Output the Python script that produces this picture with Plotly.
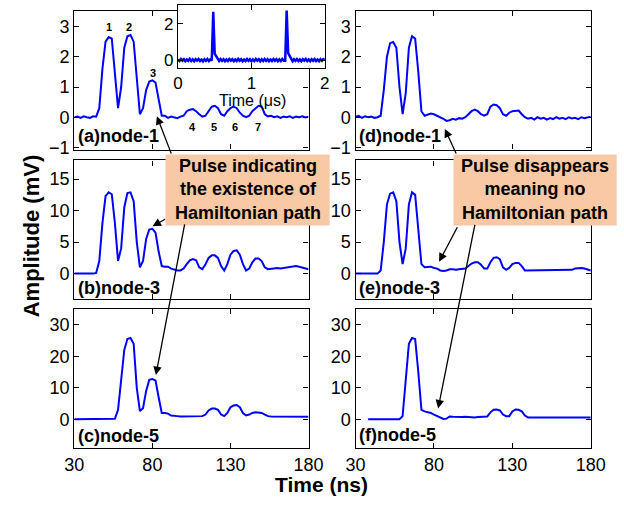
import plotly.graph_objects as go

# ---------------- data ----------------
t_ns = list(range(30, 181, 2))

amp_a = [0.0, 0.02, -0.02, 0.03, 0.0, -0.02, 0.03, 0.02, 0.3, 1.6,
         2.5, 2.65, 2.6, 1.5, 0.3, 1.0, 2.3, 2.68, 2.72, 2.5,
         1.2, 0.1, 0.3, 0.9, 1.18, 1.22, 1.15, 0.6, 0.05, 0.05,
         -0.02, 0.02, 0.0, -0.03, 0.02, 0.05, 0.2, 0.25, 0.27, 0.2,
         0.1, 0.02, 0.05, 0.2, 0.35, 0.38, 0.3, 0.1, 0.05, 0.2,
         0.3, 0.35, 0.3, 0.15, 0.05, 0.0, 0.05, 0.2, 0.3, 0.38,
         0.35, 0.1, 0.03, 0.05, 0.0, 0.03, -0.02, 0.02, 0.0, 0.03,
         -0.02, 0.02, 0.0, 0.03, -0.01, 0.02]

amp_d = [0.02, 0.05, -0.02, 0.03, 0.0, 0.02, -0.02, 0.0, 0.05, 0.9,
         2.0, 2.45, 2.49, 2.3, 1.0, 0.1, 0.8, 2.3, 2.68, 2.6,
         1.5, 0.2, 0.05, 0.08, 0.12, 0.1, 0.05, 0.02, -0.05, -0.12,
         -0.1, -0.05, -0.08, -0.03, -0.05, 0.0, 0.1, 0.2, 0.25, 0.2,
         0.1, 0.05, 0.1, 0.35, 0.42, 0.4, 0.3, 0.1, 0.05, 0.15,
         0.2, 0.2, 0.22, 0.1, 0.0, -0.05, -0.02, -0.08, 0.0, -0.05,
         -0.02, -0.08, -0.03, -0.06, 0.0, -0.05, -0.02, -0.06, 0.0, -0.04,
         -0.02, -0.06, 0.0, -0.03, 0.0, 0.02]

amp_b = [0.0, 0.0, -0.1, 0.0, 0.0, -0.1, 0.0, 0.1, 2.0, 8.0,
         12.3, 12.9, 12.6, 8.0, 2.0, 4.0, 10.5, 12.8, 12.9, 11.5,
         5.0, 1.0, 2.0, 5.5, 7.0, 7.1, 6.5, 3.5, 1.2, 1.1,
         1.1, 0.8, 0.6, 0.5, 0.5, 0.8, 1.5, 2.1, 2.3, 2.1,
         1.0, 0.7, 1.5, 2.5, 2.9, 2.9, 2.5, 1.2, 0.5, 1.5,
         3.0, 3.6, 3.7, 3.0, 1.5, 0.5, 0.8, 1.8, 2.4, 2.4,
         2.0, 1.0, 0.7, 0.8, 0.9, 0.9, 0.8, 0.9, 0.9, 1.0,
         1.2, 1.2, 1.1, 1.0, 0.8, 0.7]

amp_e = [0.0, 0.0, -0.1, 0.0, 0.0, -0.1, 0.0, 0.0, 0.5, 5.0,
         11.0, 12.7, 12.9, 11.5, 5.0, 1.5, 4.0, 11.0, 12.9, 12.5,
         7.0, 1.5, 1.0, 1.1, 1.1, 0.9, 0.8, 0.5, 0.4, 0.5,
         0.7, 0.7, 0.6, 0.7, 0.7, 0.8, 1.2, 1.6, 1.8, 1.8,
         1.4, 0.8, 0.8, 1.8, 2.5, 2.6, 2.3, 1.0, 0.6, 0.9,
         1.5, 1.7, 1.7, 1.2, 0.5, 0.5, 0.5, 0.5, 0.5, 0.5,
         0.5, 0.5, 0.5, 0.5, 0.5, 0.5, 0.5, 0.5, 0.5, 0.6,
         0.8, 0.9, 0.9, 0.8, 0.6, 0.5]

amp_c = [0.0, 0.0, 0.0, 0.0, 0.0, 0.0, 0.0, 0.0, 0.0, 0.0,
         0.0, 0.0, 0.0, 0.2, 3.0, 12.0, 22.0, 25.5, 25.8, 24.0,
         10.0, 2.6, 3.5, 9.0, 12.5, 12.8, 12.3, 7.0, 2.0, 2.0,
         1.8, 1.2, 1.0, 1.0, 0.9, 0.9, 1.0, 1.0, 0.9, 1.0,
         1.0, 1.0, 1.5, 2.8, 3.4, 3.4, 3.0, 1.5, 1.0, 2.0,
         3.8, 4.4, 4.5, 3.8, 2.0, 1.2, 1.5, 2.0, 2.2, 2.0,
         2.0, 1.5, 1.0, 0.9, 0.9, 0.9, 0.9, 0.9, 0.9, 0.9,
         0.9, 0.8, 0.8, 0.8, 0.8, 0.8]

amp_f = [None, None, None, None, 0.0, 0.0, 0.0, 0.0, 0.0, 0.0,
         0.0, 0.0, 0.0, 0.0, 0.0, 1.0, 12.0, 24.0, 25.8, 25.5,
         15.0, 3.0, 2.5, 2.3, 2.0, 1.5, 1.0, 0.6, 0.1, 0.2,
         0.9, 0.8, 0.7, 0.8, 0.7, 0.8, 0.7, 0.8, 0.6, 0.7,
         0.7, 0.7, 0.9, 2.2, 3.0, 3.1, 2.8, 1.5, 1.0, 1.0,
         2.5, 3.1, 3.0, 2.5, 1.2, 0.6, 0.7, 0.6, 0.6, 0.6,
         0.6, 0.6, 0.6, 0.6, 0.6, 0.6, 0.6, 0.6, 0.6, 0.6,
         0.6, 0.6, 0.6, 0.6, 0.6, 0.6]

t_us = [i / 50 for i in range(0, 101)]
amp_inset = [0.04, -0.05, 0.06, -0.03, 0.05, -0.06, 0.03, -0.04, 0.07, -0.05,
             0.04, -0.06, 0.05, -0.03, 0.06, -0.05, 0.03, -0.07, 0.05, -0.04,
             0.06, -0.05, 0.04, -0.02, 2.65, 0.35, 0.22, 0.08, -0.05, 0.06,
             -0.04, 0.05, -0.06, 0.04, -0.05, 0.06, -0.03, 0.05, -0.06, 0.04,
             -0.05, 0.07, -0.04, 0.05, -0.06, 0.03, -0.05, 0.06, -0.04, 0.05,
             -0.06, 0.04, -0.05, 0.06, -0.03, 0.05, -0.07, 0.04, -0.05, 0.06,
             -0.04, 0.05, -0.06, 0.03, -0.05, 0.06, -0.04, 0.05, -0.06, 0.04,
             -0.05, 0.06, -0.03, -0.03, 2.72, 0.38, 0.2, 0.05, -0.06, 0.05,
             -0.04, 0.06, -0.05, 0.04, -0.06, 0.05, -0.03, 0.06, -0.05, 0.04,
             -0.06, 0.05, -0.04, 0.06, -0.05, 0.03, -0.06, 0.05, -0.04, 0.06,
             0.02]

x_ticks = [30, 80, 130, 180]
y_ticks_top = [-1, 0, 1, 2, 3]
y_ticks_mid = [0, 5, 10, 15]
y_ticks_bot = [0, 10, 20, 30]
inset_xticks = [0, 1, 2]
inset_yticks = [0, 2]

panel_labels = ["(a)node-1", "(d)node-1", "(b)node-3", "(e)node-3", "(c)node-5", "(f)node-5"]
peak_labels = ["1", "2", "3", "4", "5", "6", "7"]
peak_pos_x = [52.5, 65.3, 80.2, 105.6, 119.6, 132.9, 147.7]
peak_pos_y = [3.0, 2.98, 1.47, -0.33, -0.33, -0.33, -0.33]

# ---------------- layout helpers ----------------
W, H = 624, 506
def fx(p):
    return p / W
def fy(p):
    return 1 - p / H

BLUE = "#0000ff"
PEACH = "#f8c9a4"
FONT = "Liberation Sans, Arial, sans-serif"

fig = go.Figure()

panels = [
    (amp_a, 1, (67, 311), (11, 152), [-1.07, 3.52], y_ticks_top, False),
    (amp_d, 2, (360, 605), (11, 152), [-1.07, 3.52], y_ticks_top, False),
    (amp_b, 3, (67, 311), (163, 304), [-4.06, 17.97], y_ticks_mid, False),
    (amp_e, 4, (360, 605), (163, 304), [-4.06, 17.97], y_ticks_mid, False),
    (amp_c, 5, (67, 311), (314, 455), [-9.06, 35.0], y_ticks_bot, True),
    (amp_f, 6, (360, 605), (314, 455), [-9.06, 35.0], y_ticks_bot, True),
]

axis_common = dict(showline=True, linecolor="black", linewidth=1.2, mirror="ticks",
                   ticks="inside", ticklen=5, tickcolor="black", tickwidth=1,
                   showgrid=False, zeroline=False,
                   tickfont=dict(family=FONT, size=18, color="black"))

for series, k, xd, yd, yr, yt, showx in panels:
    sfx = "" if k == 1 else str(k)
    fig.add_trace(go.Scatter(x=t_ns, y=series, mode="lines",
                             line=dict(color=BLUE, width=2),
                             xaxis="x" + sfx, yaxis="y" + sfx,
                             showlegend=False, hoverinfo="skip"))
    fig.layout["xaxis" + sfx] = dict(axis_common, domain=[fx(xd[0]), fx(xd[1])],
                                     range=[30, 180], tickvals=x_ticks,
                                     showticklabels=showx, anchor="y" + sfx)
    fig.layout["yaxis" + sfx] = dict(axis_common, domain=[fy(yd[1]), fy(yd[0])],
                                     range=yr, tickvals=yt, anchor="x" + sfx)

# inset
inset_axis = dict(axis_common, tickfont=dict(family=FONT, size=17, color="black"))
fig.add_trace(go.Scatter(x=t_us, y=amp_inset, mode="lines",
                         line=dict(color=BLUE, width=2.5),
                         xaxis="x7", yaxis="y7", showlegend=False, hoverinfo="skip"))
fig.layout["xaxis7"] = dict(inset_axis, domain=[fx(175), fx(328)], range=[0, 2],
                            tickvals=inset_xticks, anchor="y7")
fig.layout["yaxis7"] = dict(inset_axis, domain=[fy(69), fy(5)], range=[-0.43, 3.03],
                            tickvals=inset_yticks, anchor="x7")

# callout boxes as shapes (right one runs off the page edge like the reference)
shapes = [
    dict(type="rect", xref="paper", yref="paper", x0=fx(162), x1=fx(333), y0=fy(229), y1=fy(157),
         fillcolor=PEACH, line=dict(width=0), layer="above"),
    dict(type="rect", xref="paper", yref="paper", x0=fx(462), x1=fx(632), y0=fy(229), y1=fy(157),
         fillcolor=PEACH, line=dict(width=0), layer="above"),
]

ann = []
ann.append(dict(text="Time (μs)", x=fx(253), y=fy(102), xref="paper", yref="paper",
                xanchor="center", yanchor="middle",
                showarrow=False, font=dict(family=FONT, size=16, color="black")))
for lab, px_, py_ in zip(peak_labels, peak_pos_x, peak_pos_y):
    ann.append(dict(text="<b>" + lab + "</b>", x=px_, y=py_, xref="x", yref="y",
                    xanchor="center", yanchor="middle", showarrow=False,
                    font=dict(family=FONT, size=11, color="black")))
lab_pos = [(69, 138), (362, 138), (69, 293), (362, 293), (69, 443), (362, 442)]
for lab, (lx, ly) in zip(panel_labels, lab_pos):
    ann.append(dict(text="<b>" + lab + "</b>", x=fx(lx), y=fy(ly), xref="paper", yref="paper",
                    xanchor="left", yanchor="middle", showarrow=False,
                    font=dict(family=FONT, size=18, color="black")))
ann.append(dict(text="<b>Amplitude (mV)</b>", x=fx(22), y=fy(240), xref="paper", yref="paper",
                xanchor="center", yanchor="middle",
                textangle=-90, showarrow=False, font=dict(family=FONT, size=22, color="black")))
ann.append(dict(text="<b>Time (ns)</b>", x=fx(325), y=fy(492), xref="paper", yref="paper",
                xanchor="center", yanchor="middle",
                showarrow=False, font=dict(family=FONT, size=21, color="black")))

arrows = [((153, 118), (15, 39)), ((148.5, 230), (14, -8)), ((152, 381), (29, -152)),
          ((453, 131), (12, 26)), ((447, 266), (19, -36)), ((446, 415), (37, -185))]
for (hx, hy), (ax_, ay_) in arrows:
    ann.append(dict(text="", x=fx(hx), y=fy(hy), xref="paper", yref="paper",
                    ax=ax_, ay=ay_, showarrow=True, arrowhead=2, arrowsize=1.3,
                    arrowwidth=1.3, arrowcolor="black", standoff=0))

box_font = dict(family=FONT, size=18, color="black")
ann.append(dict(text="<b>Pulse indicating<br>the existence of<br>Hamiltonian path</b>",
                x=fx(247.5), y=fy(193), xref="paper", yref="paper", showarrow=False,
                xanchor="center", yanchor="middle", font=box_font))
ann.append(dict(text="<b>Pulse disappears<br>meaning no<br>Hamiltonian path</b>",
                x=fx(547), y=fy(193), xref="paper", yref="paper", showarrow=False,
                xanchor="center", yanchor="middle", font=box_font))

fig.update_layout(width=W, height=H, margin=dict(l=0, r=0, t=0, b=0),
                  paper_bgcolor="white", plot_bgcolor="white",
                  shapes=shapes, annotations=ann, showlegend=False)

fig.write_html("out.html", config={"displayModeBar": False},
               post_script="document.body.style.margin='0px';")
